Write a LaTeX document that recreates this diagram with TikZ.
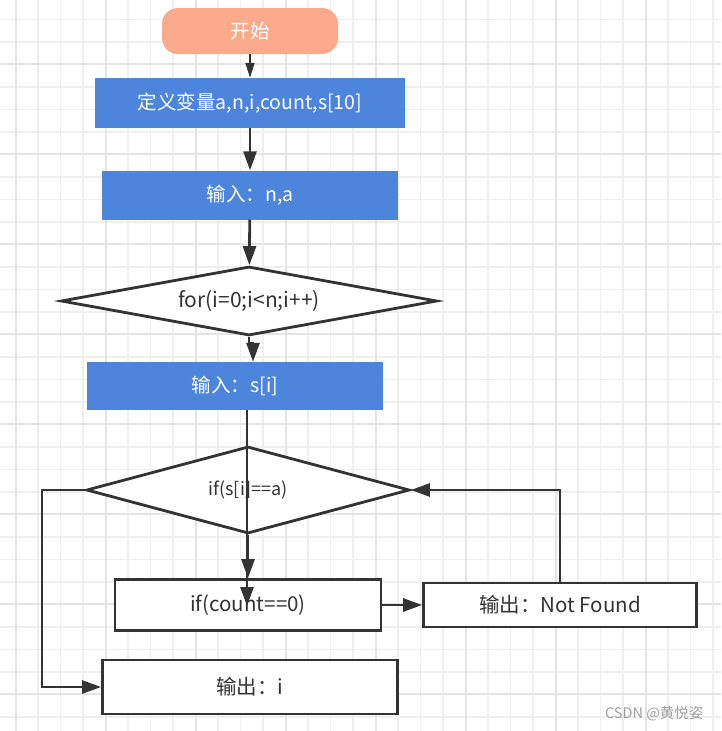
\documentclass[tikz,border=0pt]{standalone}
\usepackage{fontspec}
\setmainfont{Noto Sans CJK SC}
\usetikzlibrary{shapes.geometric,arrows.meta}
\definecolor{startcolor}{RGB}{252,170,140}
\definecolor{boxblue}{RGB}{76,133,219}
\definecolor{linegray}{RGB}{51,51,51}
\definecolor{gridminor}{RGB}{239,239,239}
\definecolor{gridmajor}{RGB}{228,228,228}

\begin{document}
\begin{tikzpicture}[x=1pt,y=-1pt,
		startnode/.style={rounded corners=16pt,fill=startcolor,text=white,minimum width=176pt,minimum height=46pt,font=\fontsize{19.5}{21}\selectfont},
		bluebox/.style={fill=boxblue,text=white,minimum height=49pt,font=\fontsize{19.5}{21}\selectfont},
		whitebox/.style={draw=linegray,line width=2.8pt,fill=white,text=linegray,font=\fontsize{20.5}{22}\selectfont},
		decision/.style={diamond,draw=linegray,line width=2.8pt,fill=white,text=linegray,inner sep=0pt},
		conn/.style={draw=linegray,line width=2.8pt},
		arr/.style={conn,-{Triangle[length=19pt,width=13pt]}}]
		  \useasboundingbox (0,0) rectangle (721,731);
		  \fill[white] (0,0) rectangle (721,731);
		  \foreach \k in {0,...,31} {
		    \draw[gridminor,line width=1.5pt] ({15.7+22.5*\k},0) -- ({15.7+22.5*\k},731);
		    \draw[gridminor,line width=1.5pt] (0,{19.3+22.5*\k}) -- (721,{19.3+22.5*\k});
		  }
		  \foreach \x in {15.7,105.7,...,710} {\draw[gridmajor,line width=2pt] (\x,0) -- (\x,731);}
		  \foreach \y in {64.3,154.3,...,720} {\draw[gridmajor,line width=2pt] (0,\y) -- (721,\y);}

		  \node[startnode] (start) at (250,31) {开始};
		  \node[bluebox,minimum width=310pt,minimum height=50pt] (defvar) at (250,103) {定义变量a,n,i,count,s[10]};
		  \node[bluebox,minimum width=296pt] (inputna) at (250,195) {输入：n,a};
		  \node[decision,aspect=5.45,minimum width=376pt,minimum height=69pt,font=\fontsize{21}{23}\selectfont] (forloop) at (249,301) {for(i=0;i<n;i++)};
		  \node[bluebox,minimum width=296pt,minimum height=48pt] (inputsi) at (235,386) {输入：s[i]};
		  \node[decision,aspect=3.7,minimum width=323pt,minimum height=87pt,font=\fontsize{18}{20}\selectfont] (ifeq) at (248,490) {if(s[i]==a)};
		  \node[whitebox,minimum width=266pt,minimum height=51pt] (ifcount) at (248,605) {if(count==0)};
		  \node[whitebox,minimum width=273pt,minimum height=44pt] (notfound) at (560,605) {输出：Not Found};
		  \node[whitebox,minimum width=295pt,minimum height=54pt] (outi) at (250,687) {输出：i};
		  \node[text=gray!75,anchor=east,font=\fontsize{14.5}{16}\selectfont] (mark) at (707,714) {CSDN @黄悦姿};

		  \coordinate (jog) at (253,343);
		  \coordinate (tip) at (247,606);
		  \coordinate (lft) at (42,490);
		  \draw[conn,line width=1.6pt,-{Triangle[length=15pt,width=9pt]}] (start) -- (defvar);
		  \draw[arr] (defvar) -- (inputna);
		  \draw[arr] (inputna) -- (forloop);
		  \draw[arr] (forloop.south) |- (jog) -- (jog |- inputsi.north);
		  \draw[arr] (ifeq.south) -- (ifcount.north);
		  \draw[arr] (inputsi.south -| tip) -- (tip);
		  \draw[arr] (ifcount) -- (notfound);
		  \draw[arr] (notfound.north) |- (ifeq.east);
		  \draw[arr] (ifeq.west) -- (lft) |- (outi.west);
		\end{tikzpicture}
\end{document}
